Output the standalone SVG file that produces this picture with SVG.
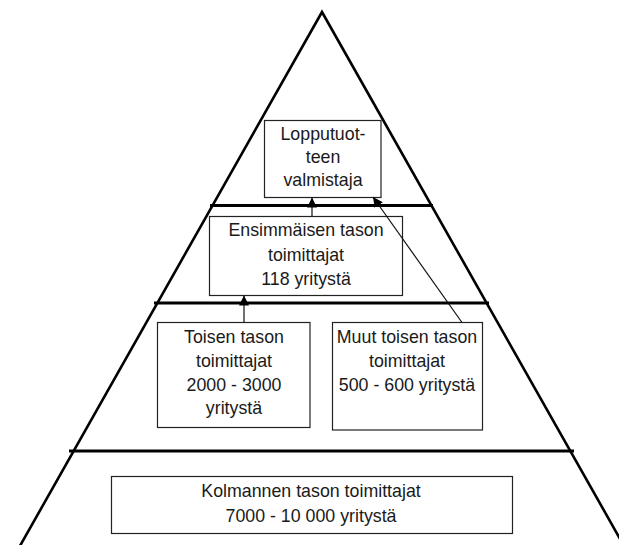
<svg xmlns="http://www.w3.org/2000/svg" width="619" height="545" viewBox="0 0 619 545">
<style>
.bg{fill:#ffffff}
.pyr{fill:none;stroke:#000;stroke-width:2.6;stroke-linejoin:miter}
.lvl{stroke:#000;stroke-width:3}
.box{fill:#fff;stroke:#222;stroke-width:1.2}
.t{font-family:"Liberation Sans",Arial,sans-serif;font-size:17.8px;fill:#1a1a1a;text-anchor:middle}
.c{fill:none;stroke:#111;stroke-width:1.2}
</style>
<defs>
<marker id="ah" viewBox="0 0 10 10" refX="10" refY="5" markerWidth="10" markerHeight="10" markerUnits="userSpaceOnUse" orient="auto">
<path d="M0,0 L10,5 L0,10 Z" fill="#000"/>
</marker>
</defs>
<rect class="bg" x="0" y="0" width="619" height="545"/>
<g id="pyramid">
<polyline class="pyr" points="12,560 322,12 632,560"/>
<line class="lvl" x1="210" y1="205.5" x2="433" y2="205.5"/>
<line class="lvl" x1="154" y1="303" x2="489" y2="303"/>
<line class="lvl" x1="69" y1="451" x2="574" y2="451"/>
</g>
<g id="n-lopputuote">
<rect class="box" x="264.5" y="120.5" width="116.5" height="77"/>
<text class="t" x="323" y="139.5">Lopputuot-</text>
<text class="t" x="323" y="163">teen</text>
<text class="t" x="323" y="186">valmistaja</text>
</g>
<g id="n-ensimmainen">
<rect class="box" x="209.5" y="216.5" width="193" height="79"/>
<text class="t" x="306" y="236">Ensimmäisen tason</text>
<text class="t" x="306" y="260.5">toimittajat</text>
<text class="t" x="306" y="285">118 yritystä</text>
</g>
<g id="n-toinen">
<rect class="box" x="157.5" y="322.5" width="152.5" height="105"/>
<text class="t" x="234" y="342.5">Toisen tason</text>
<text class="t" x="234" y="366.5">toimittajat</text>
<text class="t" x="234" y="390.5">2000 - 3000</text>
<text class="t" x="234" y="414">yritystä</text>
</g>
<g id="n-muut">
<rect class="box" x="332.5" y="322.5" width="150" height="107.5"/>
<text class="t" x="407" y="342.5">Muut toisen tason</text>
<text class="t" x="407" y="366.5">toimittajat</text>
<text class="t" x="407" y="390.5">500 - 600 yritystä</text>
</g>
<g id="n-kolmas">
<rect class="box" x="111.5" y="476.5" width="401" height="57"/>
<text class="t" x="311" y="497">Kolmannen tason toimittajat</text>
<text class="t" x="311" y="521.5">7000 - 10 000 yritystä</text>
</g>
<g id="connectors">
<line class="c" x1="312" y1="216.5" x2="312" y2="197.5" marker-end="url(#ah)"/>
<line class="c" x1="244" y1="322.5" x2="244" y2="295.5" marker-end="url(#ah)"/>
<line class="c" x1="462" y1="322.5" x2="373" y2="197" marker-end="url(#ah)"/>
</g>
</svg>
